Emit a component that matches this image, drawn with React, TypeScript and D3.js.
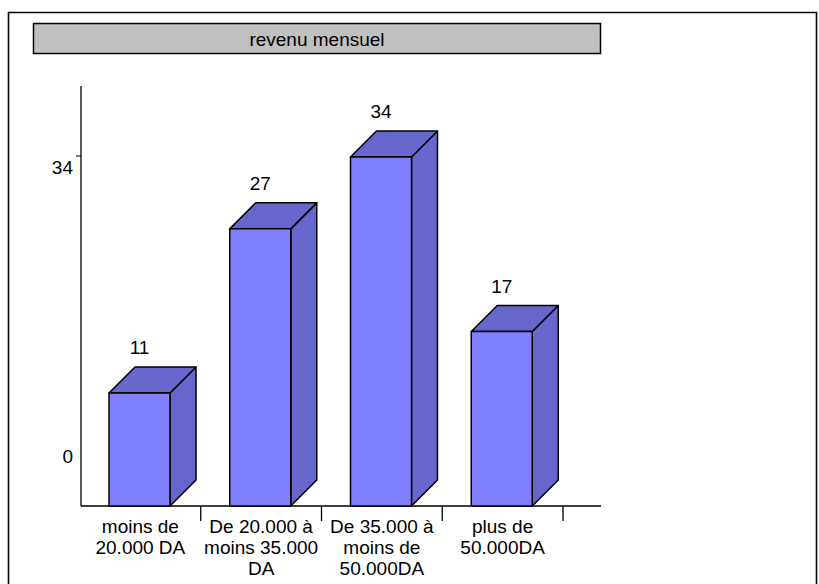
import React from "react";
import * as d3 from "d3";

const title = "revenu mensuel";
const categories: string[][] = [
  ["moins de", "20.000 DA"],
  ["De 20.000 à", "moins 35.000", "DA"],
  ["De 35.000 à", "moins de", "50.000DA"],
  ["plus de", "50.000DA"],
];
const values = [11, 27, 34, 17];
const yTickValues = [0, 34];

const W = 819;
const H = 584;
const FONT = "'Liberation Sans', Arial, sans-serif";
const FS = 19;

export default function App() {
  const x = d3
    .scaleBand<number>()
    .domain(values.map((_, i) => i))
    .range([80, 563])
    .paddingInner(0)
    .paddingOuter(0);
  const y = d3.scaleLinear().domain([0, 34]).range([506, 157]);
  const yLabel = d3.scaleLinear().domain([0, 34]).range([456, 167]);
  const depth = 26;
  const barW = 61;
  const barOff = 29;
  const front = "#8080FF";
  const side = "#6666CC";

  return (
    <svg
      width={W}
      height={H}
      style={{ position: "absolute", left: 0, top: 0, background: "#fff" }}
      fontFamily={FONT}
    >
      {/* outer frame */}
      <path d={`M8.5,${H + 2} V12.5 H816.5 V${H + 2}`} fill="none" stroke="#000" strokeWidth={1.6} />
      {/* title box */}
      <rect x={33.5} y={23.5} width={567} height={30} fill="#C0C0C0" stroke="#000" strokeWidth={1.5} />
      <text x={317} y={45.5} textAnchor="middle" fontSize={FS} fill="#000">
        {title}
      </text>

      {/* y axis */}
      <line x1={81} x2={81} y1={86} y2={y(0)} stroke="#000" strokeWidth={1.3} />
      {yTickValues.map((t) => (
        <g key={t}>
          {t !== 0 && <line x1={76} x2={81} y1={y(t) - 1} y2={y(t) - 1} stroke="#000" strokeWidth={1} />}
          <text x={73} y={yLabel(t) + 7} textAnchor="end" fontSize={FS} fill="#000">
            {t}
          </text>
        </g>
      ))}

      {/* floor / x axis */}
      <line x1={81} x2={601} y1={y(0)} y2={y(0)} stroke="#000" strokeWidth={1.3} />
      {values.map((_, i) => {
        const tx = (x(i) as number) + x.bandwidth();
        return <line key={i} x1={tx} x2={tx} y1={y(0)} y2={y(0) + 15} stroke="#000" strokeWidth={1.3} />;
      })}

      {/* bars */}
      {values.map((v, i) => {
        const x0 = (x(i) as number) + barOff;
        const x1 = x0 + barW;
        const yt = y(v);
        const yb = y(0);
        const sidePath = `M${x1},${yb} L${x1 + depth},${yb - depth} L${x1 + depth},${yt - depth} L${x1},${yt} Z`;
        const topPath = `M${x0},${yt} L${x0 + depth},${yt - depth} L${x1 + depth},${yt - depth} L${x1},${yt} Z`;
        return (
          <g key={i} stroke="#000" strokeWidth={1.5} strokeLinejoin="round">
            <path d={sidePath} fill={side} />
            <path d={topPath} fill={side} />
            <rect x={x0} y={yt} width={barW} height={yb - yt} fill={front} />
            <text
              x={(x0 + x1) / 2}
              y={yt - depth - 20 + 7}
              textAnchor="middle"
              fontSize={FS}
              fill="#000"
              stroke="none"
            >
              {v}
            </text>
          </g>
        );
      })}

      {/* category labels */}
      {categories.map((lines, i) => {
        const cx = (x(i) as number) + x.bandwidth() / 2;
        return (
          <text key={i} textAnchor="middle" fontSize={FS} fill="#000">
            {lines.map((l, j) => (
              <tspan key={j} x={cx} y={533 + j * 21}>
                {l}
              </tspan>
            ))}
          </text>
        );
      })}
    </svg>
  );
}
